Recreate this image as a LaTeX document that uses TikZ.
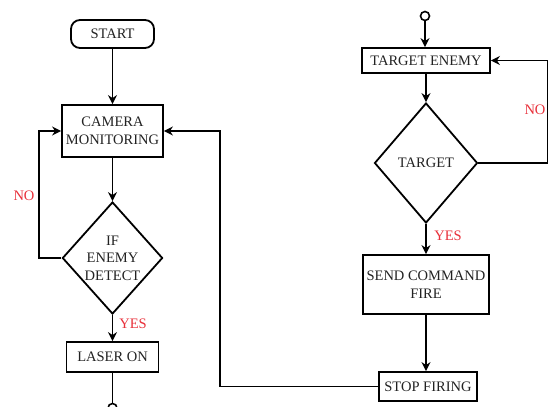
\documentclass[tikz,border=0pt]{standalone}
\usepackage{fontspec}
\setmainfont{Liberation Serif}
\usetikzlibrary{shapes.geometric,arrows.meta}
\definecolor{txt}{HTML}{222222}
\definecolor{lbl}{HTML}{E8303A}
\begin{document}
\begin{tikzpicture}[x=1pt,y=-1pt,
  every node/.style={font=\fontsize{14.5}{17.5}\selectfont,text=txt},
  box/.style={draw=black,line width=1.8pt,rectangle,inner sep=0pt,align=center},
  term/.style={box,rounded corners=9pt},
  dia/.style={draw=black,line width=1.8pt,diamond,inner sep=0pt,align=center},
  conn/.style={line width=1.8pt,draw=black},
  arr/.style={conn,-{Stealth[length=9pt,width=9pt]}},
  lab/.style={text=lbl,inner sep=0pt},
  dot/.style={circle,draw=black,line width=1.6pt,minimum size=9pt,inner sep=0pt}]
\useasboundingbox (0,0) rectangle (550,407);
\node[term,minimum width=83pt,minimum height=28pt] (start) at (112.5,34) {START};
\node[box,minimum width=101pt,minimum height=52pt] (cam) at (112.5,131) {CAMERA\\MONITORING};
\node[dia,minimum width=98pt,minimum height=112pt] (d1) at (112.5,258) {IF\\ENEMY\\DETECT};
\node[box,minimum width=92pt,minimum height=30pt] (laser) at (112.5,357) {LASER ON};
\node[dot] (endc) at (112.5,408) {};
\node[dot] (topc) at (425,16) {};
\node[box,minimum width=128pt,minimum height=25pt] (te) at (426,60.5) {TARGET ENEMY};
\node[dia,minimum width=103pt,minimum height=120pt] (d2) at (426,163) {TARGET};
\node[box,minimum width=126pt,minimum height=59pt] (send) at (426,284.5) {SEND COMMAND\\FIRE};
\node[box,minimum width=98pt,minimum height=29pt] (stop) at (428,386.5) {STOP FIRING};
\coordinate (nol) at (39,258);
\coordinate (nor) at (547.5,163);
\coordinate (back) at (220,386.5);
\draw[arr] (start) -- (cam);
\draw[arr] (cam) -- (d1);
\draw[arr] (d1.west) -- (nol) |- (cam.west);
\draw[arr] (d1) -- (laser);
\draw[conn] (laser) -- (endc);
\draw[arr] (topc) -- (topc |- te.north);
\draw[arr] (te) -- (d2);
\draw[arr] (d2.east) -- (nor) |- (te.east);
\draw[arr] (d2) -- (send);
\draw[arr] (send.south) -- (send.south |- stop.north);
\draw[arr] (stop.west) -- (back) |- (cam.east);
\node[lab] (no1) at (24,196) {NO};
\node[lab] (yes1) at (133,324) {YES};
\node[lab] (no2) at (535,110) {NO};
\node[lab] (yes2) at (448,236) {YES};
\end{tikzpicture}
\end{document}
